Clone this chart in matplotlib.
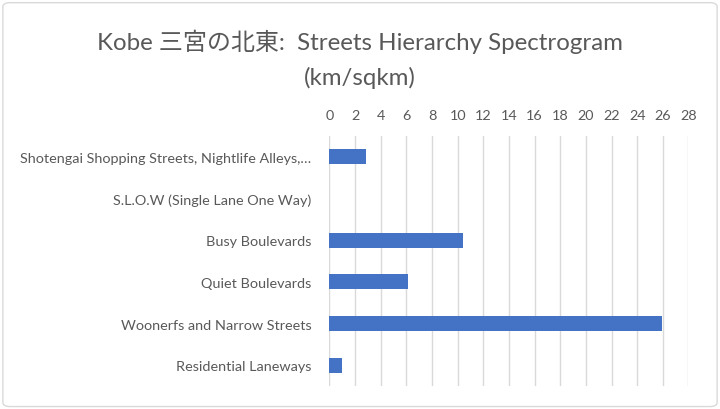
import matplotlib
matplotlib.use("Agg")
import matplotlib.pyplot as plt
from matplotlib.patches import FancyBboxPatch

plt.rcParams['font.family'] = ['Lato', 'Noto Sans CJK JP', 'DejaVu Sans']

categories = [
    "Shotengai Shopping Streets, Nightlife Alleys,\u2026",
    "S.L.O.W (Single Lane One Way)",
    "Busy Boulevards",
    "Quiet Boulevards",
    "Woonerfs and Narrow Streets",
    "Residential Laneways",
]
values = [2.83, 0, 10.38, 6.15, 25.94, 0.96]
title = "Kobe 三宮の北東:  Streets Hierarchy Spectrogram\n(km/sqkm)"

fig = plt.figure(figsize=(7.2, 4.1), dpi=100)
ax = fig.add_axes([0.4576, 0.056, 0.4986, 0.61])

ypos = list(range(len(categories)))
ax.barh(ypos, values, height=0.36, color="#4472C4")
ax.set_ylim(len(categories) - 0.5, -0.5)
ax.set_yticks(ypos)
ax.set_yticklabels(categories, fontsize=10.4, color="#595959")
ax.set_xlim(0, 28)
ax.set_xticks(range(0, 29, 2))
ax.xaxis.tick_top()
ax.tick_params(axis="x", labelsize=10.4, labelcolor="#595959", length=0, pad=11)
ax.tick_params(axis="y", length=0, pad=13)
ax.grid(axis="x", color="#D9D9D9", linewidth=1)
ax.set_axisbelow(True)
for s in ax.spines.values():
    s.set_visible(False)

fig.text(0.5, 0.855, title, ha="center", va="center", fontsize=17.3,
         color="#595959", linespacing=1.75)

border = FancyBboxPatch((0.004, 0.006), 0.992, 0.985,
                        boxstyle="round,pad=0,rounding_size=0.01",
                        transform=fig.transFigure, fill=False,
                        edgecolor="#D9D9D9", linewidth=1)
fig.patches.append(border)

fig.savefig("out.png", dpi=100)
